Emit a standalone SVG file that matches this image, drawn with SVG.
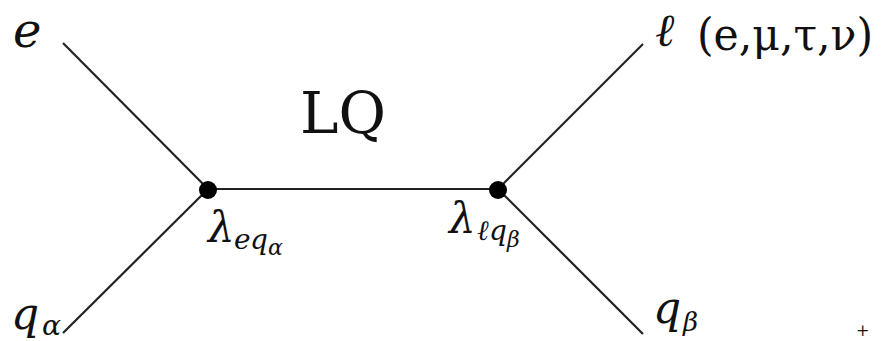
<svg xmlns="http://www.w3.org/2000/svg" width="881" height="341" viewBox="0 0 881 341">
<style>
.ln{stroke:#222;stroke-width:2.2;fill:none;stroke-linecap:butt}
.m{font-style:italic;fill:#111}
.r{fill:#111}
.dot{fill:#000}
</style>
<rect width="881" height="341" fill="#fff"/>
<g id="connectors">
<line class="ln" x1="63" y1="43" x2="208" y2="189"/>
<line class="ln" x1="63" y1="333" x2="208" y2="189"/>
<line class="ln" x1="208" y1="189" x2="498" y2="189"/>
<line class="ln" x1="643" y1="44" x2="498" y2="189"/>
<line class="ln" x1="643" y1="334" x2="498" y2="189"/>
</g>
<g font-family="'DejaVu Serif', serif">
<g id="vertex-left"><circle class="dot" cx="208" cy="190" r="9"/>
<text class="m" x="208" y="242" font-size="42">λ</text>
<text class="m" x="234" y="249" font-size="28">e</text>
<text class="m" x="250" y="249" font-size="28">q</text>
<text class="m" x="268" y="255" font-size="22">α</text>
</g>
<g id="vertex-right"><circle class="dot" cx="498" cy="190" r="9"/>
<text class="m" x="449" y="233" font-size="42">λ</text>
<text class="m" x="477" y="240" font-size="28">ℓ</text>
<text class="m" x="489" y="240" font-size="28">q</text>
<text class="m" x="507" y="247" font-size="22">β</text>
</g>
<g id="label-e"><text class="m" x="13" y="47" font-size="48">e</text></g>
<g id="label-qa"><text class="m" x="11" y="329" font-size="44">q</text><text class="m" x="42" y="335" font-size="28">α</text></g>
<g id="label-l"><text class="m" x="655" y="46" font-size="46">ℓ</text>
<text class="r" x="697" y="50" font-size="44" textLength="176" lengthAdjust="spacingAndGlyphs">(e,μ,τ,ν)</text></g>
<g id="label-qb"><text class="m" x="653" y="323" font-size="44">q</text><text class="m" x="683" y="331" font-size="26">β</text></g>
<g id="label-LQ"><text class="r" x="300" y="133" font-size="58" textLength="86" lengthAdjust="spacingAndGlyphs">LQ</text></g>
<text class="r" x="856" y="336" font-size="16">+</text>
</g>
</svg>
